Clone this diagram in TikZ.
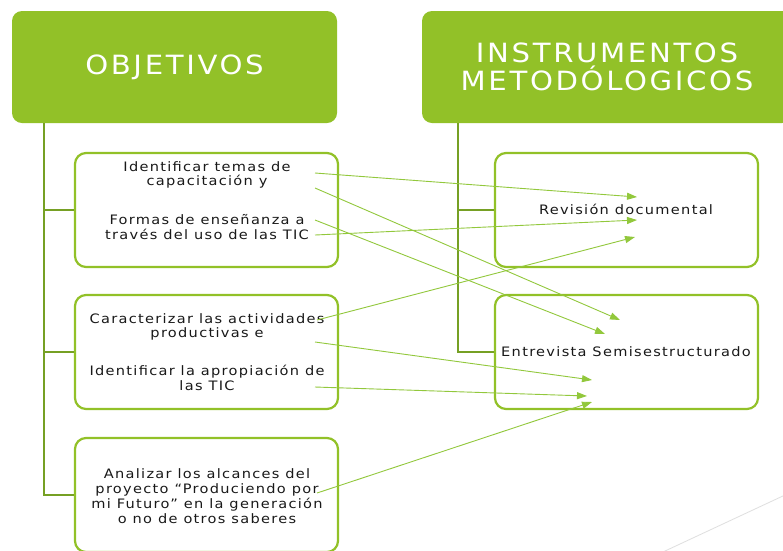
\documentclass[tikz,border=0pt]{standalone}
\usepackage{fontspec}
\setmainfont{DejaVu Sans}
\newfontfamily\boxfont[FakeStretch=1.12, LetterSpace=10]{DejaVu Sans}
\newfontfamily\headfont[FakeStretch=1.1, LetterSpace=10]{DejaVu Sans}
\usetikzlibrary{positioning, arrows.meta}

\definecolor{headgreen}{RGB}{146,193,40}
\definecolor{trunkgreen}{RGB}{118,160,36}
\definecolor{linegreen}{RGB}{146,200,60}
\definecolor{textgray}{RGB}{25,25,25}

\begin{document}
\begin{tikzpicture}[x=1pt, y=-1pt,
  head/.style={fill=headgreen, rounded corners=10pt, text=white, align=center,
    font=\headfont\fontsize{26.5}{28}\selectfont, minimum height=112pt},
  item/.style={draw=headgreen, line width=2.2pt, rounded corners=11pt,
    minimum width=263pt, minimum height=114pt},
  label/.style={text=textgray, align=center, font=\boxfont\fontsize{13}{14.8}\selectfont},
  trunk/.style={draw=trunkgreen, line width=2.5pt},
  link/.style={draw=linegreen, line width=0.9pt, -{Triangle[length=10pt,width=7pt]}}]

  \useasboundingbox (0,0) rectangle (783,550);
  \clip (0,0) rectangle (783,550);
  \fill[white] (0,0) rectangle (783,550);

  % headers
  \node[head, minimum width=325pt] (objetivos) at (174.5,67) {OBJETIVOS};
  \node[head, minimum width=370pt] (instrumentos) at (607,67) {INSTRUMENTOS\\METODÓLOGICOS};

  % boxes
  \node[item] (obj1) at (206.5,210) {};
  \node[item] (obj2) at (206.5,352) {};
  \node[item] (obj3) at (206.5,495) {};
  \node[item] (ins1) at (626.5,210) {};
  \node[item] (ins2) at (626.5,352) {};

  % trunks
  \coordinate (lt) at ([xshift=32pt]objetivos.south west);
  \coordinate (rt) at ([xshift=36pt]instrumentos.south west);
  \draw[trunk] (lt) |- (obj3.west);
  \draw[trunk] (lt |- obj1.west) -- (obj1.west);
  \draw[trunk] (lt |- obj2.west) -- (obj2.west);
  \draw[trunk] (rt) |- (ins2.west);
  \draw[trunk] (rt |- ins1.west) -- (ins1.west);

  % texts
  \node[label] (t1a) at (207,175) {Identificar temas de\\capacitación y};
  \node[label] (t1b) at (207,227) {Formas de enseñanza a\\través del uso de las TIC};
  \node[label] (t2a) at (207,327) {Caracterizar las actividades\\productivas e};
  \node[label] (t2b) at (207,378) {Identificar la apropiación de\\las TIC};
  \node[label] (t3) at (207,496) {Analizar los alcances del\\proyecto “Produciendo por\\mi Futuro” en la generación\\o no de otros saberes};
  \node[label] (r1) at (626,209) {Revisión documental};
  \node[label] (r2) at (626,352) {Entrevista Semisestructurado};

  % arrow ends
  \coordinate (s1) at (315,173);
  \coordinate (s2) at (315,188);
  \coordinate (s3) at (315,220);
  \coordinate (s4) at (315,235);
  \coordinate (s5) at (317,320);
  \coordinate (s6) at (315,342);
  \coordinate (s7) at (315,387);
  \coordinate (s8) at (317,493);
  \coordinate (e1) at (637,197);
  \coordinate (e2) at (620,320);
  \coordinate (e3) at (605,334);
  \coordinate (e4) at (637,220);
  \coordinate (e5) at (635,237);
  \coordinate (e6) at (592,380);
  \coordinate (e7) at (587,396);
  \coordinate (e8) at (592,402);

  \foreach \i in {1,...,8}
    \draw[link] (s\i) -- (e\i);

  % slide corner line
  \draw[gray!25, line width=0.8pt] (650,558) -- (800,488);
\end{tikzpicture}
\end{document}
